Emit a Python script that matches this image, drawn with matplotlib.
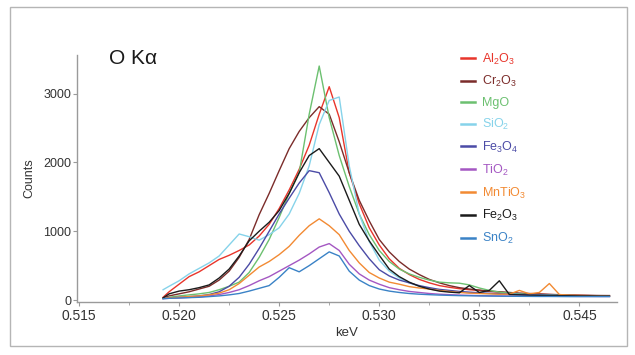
import numpy as np
import matplotlib
matplotlib.use('Agg')
import matplotlib.pyplot as plt
from matplotlib.patches import Rectangle
from matplotlib.ticker import FixedLocator, FixedFormatter


# energy grid (keV) the spectra were read at
kev = [0.5192, 0.5195, 0.5200, 0.5205, 0.5210, 0.5215, 0.5220, 0.5225, 0.5230, 0.5235,
       0.5240, 0.5245, 0.5250, 0.5255, 0.5260, 0.5265, 0.5270, 0.5275, 0.5280, 0.5285,
       0.5290, 0.5295, 0.5300, 0.5305, 0.5310, 0.5315, 0.5320, 0.5325, 0.5330, 0.5335,
       0.5340, 0.5345, 0.5350, 0.5355, 0.5360, 0.5365, 0.5370, 0.5375, 0.5380, 0.5385,
       0.5390, 0.5395, 0.5400, 0.5405, 0.5410, 0.5415]

al2o3 = [40, 120, 230, 340, 410, 500, 590, 650, 720, 800,
         930, 1100, 1330, 1600, 1900, 2250, 2700, 3100, 2650, 1850,
         1400, 1050, 800, 600, 460, 370, 300, 250, 210, 185,
         165, 150, 140, 125, 115, 105, 95, 90, 85, 80,
         75, 70, 68, 65, 62, 60]
cr2o3 = [30, 60, 90, 120, 160, 200, 290, 420, 620, 880,
         1240, 1550, 1880, 2200, 2450, 2650, 2810, 2700, 2300, 1850,
         1450, 1150, 880, 700, 560, 450, 370, 300, 250, 210,
         180, 160, 145, 130, 120, 110, 100, 95, 88, 82,
         78, 74, 70, 68, 66, 65]
mgo = [20, 40, 60, 75, 90, 110, 150, 200, 260, 400,
       620, 880, 1200, 1550, 1850, 2700, 3400, 2650, 2100, 1650,
       1250, 950, 720, 560, 450, 380, 330, 290, 260, 250,
       245, 220, 175, 140, 115, 100, 90, 82, 76, 72,
       68, 65, 62, 60, 58, 57]
sio2 = [150, 200, 280, 380, 460, 540, 640, 800, 960, 920,
        870, 950, 1050, 1250, 1550, 1950, 2550, 2900, 2950, 1950,
        1250, 850, 580, 420, 320, 250, 200, 170, 145, 130,
        115, 105, 98, 92, 88, 84, 80, 76, 72, 70,
        67, 65, 63, 61, 60, 58]
fe3o4 = [25, 30, 40, 50, 60, 80, 120, 200, 330, 520,
         750, 1000, 1250, 1480, 1700, 1880, 1850, 1560, 1250, 1000,
         790, 600, 440, 350, 290, 250, 210, 180, 155, 140,
         125, 115, 105, 98, 92, 86, 80, 76, 72, 68,
         65, 62, 60, 58, 56, 55]
tio2 = [20, 25, 30, 38, 45, 60, 80, 110, 150, 210,
        280, 340, 420, 500, 580, 670, 770, 820, 720, 520,
        380, 290, 230, 180, 150, 125, 110, 95, 85, 78,
        72, 68, 64, 62, 60, 58, 57, 56, 55, 55,
        54, 54, 53, 53, 52, 52]
mntio3 = [25, 30, 40, 50, 60, 75, 100, 150, 240, 360,
          480, 560, 660, 780, 940, 1080, 1180, 1080, 950, 720,
          540, 400, 320, 260, 230, 195, 175, 160, 140, 125,
          110, 100, 95, 90, 85, 85, 140, 90, 110, 240,
          80, 70, 66, 63, 60, 58]
fe2o3 = [30, 90, 130, 150, 180, 220, 320, 450, 640, 860,
         1000, 1130, 1300, 1550, 1850, 2100, 2200, 2000, 1800, 1450,
         1100, 860, 650, 450, 340, 260, 200, 160, 130, 115,
         105, 210, 110, 140, 280, 80, 75, 70, 68, 66,
         64, 62, 60, 60, 58, 58]
sno2 = [20, 25, 30, 35, 40, 50, 60, 75, 95, 130,
        170, 210, 330, 470, 410, 500, 600, 700, 640, 420,
        290, 210, 160, 130, 110, 95, 85, 78, 72, 68,
        64, 62, 60, 58, 56, 55, 54, 53, 52, 52,
        51, 50, 50, 50, 50, 50]

names = [r'Al$_2$O$_3$', r'Cr$_2$O$_3$', 'MgO', r'SiO$_2$', r'Fe$_3$O$_4$',
         r'TiO$_2$', r'MnTiO$_3$', r'Fe$_2$O$_3$', r'SnO$_2$']
series = [al2o3, cr2o3, mgo, sio2, fe3o4, tio2, mntio3, fe2o3, sno2]
colors = ['#e8352b', '#7b2c2a', '#6cc070', '#86d3ea', '#4b4ba6',
          '#a457c2', '#f28a33', '#1b1b1b', '#3a82c6']

plt.rcParams['font.family'] = ['Liberation Sans', 'DejaVu Sans']
plt.rcParams['mathtext.default'] = 'regular'

fig = plt.figure(figsize=(6.35, 3.55), dpi=100)
ax = fig.add_axes([0.121, 0.149, 0.851, 0.696])

for y, c, n in zip(series, colors, names):
    ax.plot(kev, y, color=c, linewidth=1.0, label=n)

ax.set_xlim(0.51489, 0.54189)
ax.set_ylim(-30, 3560)

ax.xaxis.set_major_locator(FixedLocator([0.515, 0.520, 0.525, 0.530, 0.535, 0.540]))
ax.xaxis.set_major_formatter(FixedFormatter(['0.515', '0.520', '0.525', '0.530', '0.535', '0.545']))
ax.xaxis.set_minor_locator(FixedLocator([0.5175, 0.5225, 0.5275, 0.5325, 0.5375]))
ax.set_yticks([0, 1000, 2000, 3000])

for s in ['top', 'right']:
    ax.spines[s].set_visible(False)
for s in ['left', 'bottom']:
    ax.spines[s].set_color('#9a9a9a')
    ax.spines[s].set_linewidth(1.0)
ax.tick_params(axis='x', which='major', length=3, color='#9a9a9a', labelsize=10, labelcolor='#333333', pad=2)
ax.tick_params(axis='x', which='minor', length=2, color='#9a9a9a')
ax.tick_params(axis='y', length=3, color='#9a9a9a', labelsize=9, labelcolor='#333333', pad=1)

ax.set_xlabel('keV', fontsize=9.5, color='#333333', labelpad=3)
ax.set_ylabel('Counts', fontsize=9, color='#333333', labelpad=6)

leg = ax.legend(loc='upper left', bbox_to_anchor=(0.69, 1.06), frameon=False,
                fontsize=9, handlelength=1.1, handletextpad=0.6,
                labelspacing=0.62, labelcolor='linecolor')
for h in leg.get_lines():
    h.set_linewidth(1.8)

fig.text(0.172, 0.835, u'O K\u03b1', fontsize=15, color='#1a1a1a', va='center')

# thin grey frame round the whole figure
fig.patches.append(Rectangle((10 / 635, 1 - 346 / 355), 617 / 635, 339 / 355,
                             transform=fig.transFigure, fill=False,
                             edgecolor='#b5b5b5', linewidth=1.0))

fig.savefig('out.png', dpi=100)
